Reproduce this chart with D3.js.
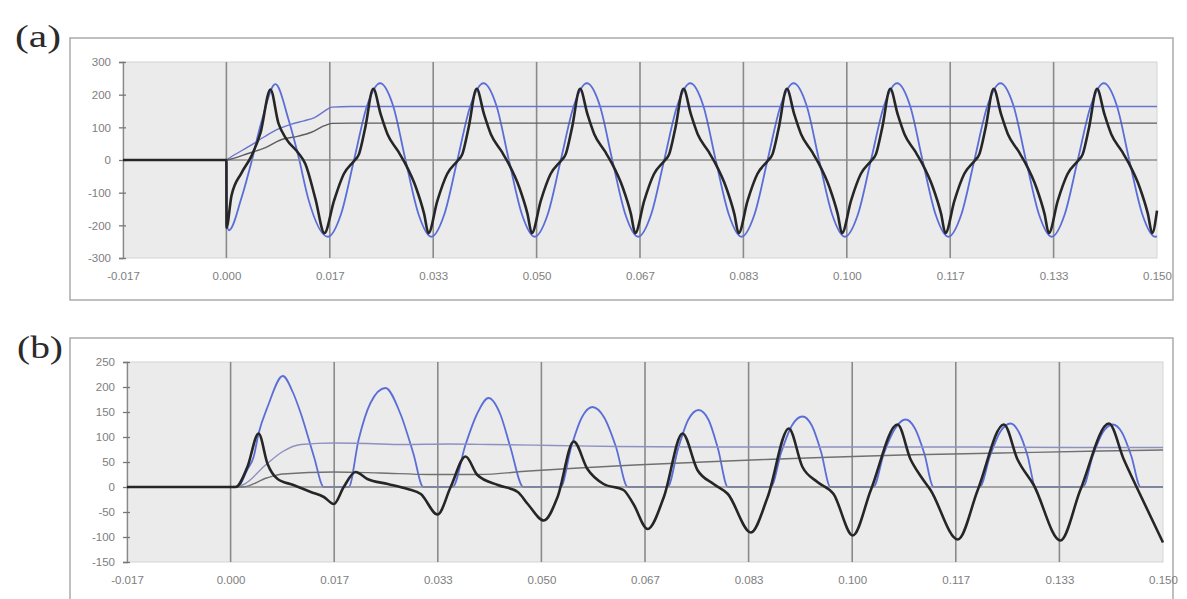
<!DOCTYPE html>
<html><head><meta charset="utf-8">
<script src="https://cdn.jsdelivr.net/npm/d3@7/dist/d3.min.js"></script>
<style>body{margin:0;background:#fff;}svg{display:block;}</style>
</head><body>
<svg id="chart" width="1187" height="599"></svg>
<script>
// ---------- data (time in ms, values as read) ----------
const xTickValues = [-16.667, 0, 16.667, 33.333, 50, 66.667, 83.333, 100, 116.667, 133.333, 150];
const xTickLabels = ["-0.017","0.000","0.017","0.033","0.050","0.067","0.083","0.100","0.117","0.133","0.150"];
const yTicksA = [-300,-200,-100,0,100,200,300];
const yTicksB = [-150,-100,-50,0,50,100,150,200,250];

// panel (a)
const blackA = [
[-16.67,0],[0,0],[0.02,-207],[0.81,-110],[2.42,-40],[4.03,12],[5.48,82],[7.1,216],[8.38,113],[9.67,64],[11.61,21],[12.73,-12],[14.35,-119],[15.8,-224],
[17.34,-125],[18.92,-43],[20.57,-3],[21.37,18],[22.37,98],[23.67,218],[24.87,140],[25.97,79],[27.67,27],[28.77,-9],[30.57,-85],[31.87,-165],[32.57,-224],
[34.0,-125],[35.58,-43],[37.23,-3],[38.03,18],[39.03,98],[40.33,218],[41.53,140],[42.63,79],[44.33,27],[45.43,-9],[47.23,-85],[48.53,-165],[49.23,-224],
[50.67,-125],[52.25,-43],[53.9,-3],[54.7,18],[55.7,98],[57.0,218],[58.2,140],[59.3,79],[61.0,27],[62.1,-9],[63.9,-85],[65.2,-165],[65.9,-224],
[67.34,-125],[68.92,-43],[70.57,-3],[71.37,18],[72.37,98],[73.67,218],[74.87,140],[75.97,79],[77.67,27],[78.77,-9],[80.57,-85],[81.87,-165],[82.57,-224],
[84.0,-125],[85.58,-43],[87.23,-3],[88.03,18],[89.03,98],[90.33,218],[91.53,140],[92.63,79],[94.33,27],[95.43,-9],[97.23,-85],[98.53,-165],[99.23,-224],
[100.67,-125],[102.25,-43],[103.9,-3],[104.7,18],[105.7,98],[107.0,218],[108.2,140],[109.3,79],[111.0,27],[112.1,-9],[113.9,-85],[115.2,-165],[115.9,-224],
[117.34,-125],[118.92,-43],[120.57,-3],[121.37,18],[122.37,98],[123.67,218],[124.87,140],[125.97,79],[127.67,27],[128.77,-9],[130.57,-85],[131.87,-165],[132.57,-224],
[134.0,-125],[135.58,-43],[137.23,-3],[138.03,18],[139.03,98],[140.33,218],[141.53,140],[142.63,79],[144.33,27],[145.43,-9],[147.23,-85],[148.53,-165],[149.23,-224],
[150,-155]
];
const blueA = [
[-16.67,0],[0,0],[0.05,-195],[0.4,-215],[2.4,-118],[4.0,-9],[5.6,113],[7.9,232],[10.0,125],[11.6,12],[13.2,-119],
[16.37,-235],[18.47,-166],[20.57,0],[22.67,166],[24.77,235],[26.87,166],[28.87,0],[30.97,-166],
[33.03,-235],[35.13,-166],[37.23,0],[39.33,166],[41.43,235],[43.53,166],[45.53,0],[47.63,-166],
[49.7,-235],[51.8,-166],[53.9,0],[56.0,166],[58.1,235],[60.2,166],[62.2,0],[64.3,-166],
[66.37,-235],[68.47,-166],[70.57,0],[72.67,166],[74.77,235],[76.87,166],[78.87,0],[80.97,-166],
[83.03,-235],[85.13,-166],[87.23,0],[89.33,166],[91.43,235],[93.53,166],[95.53,0],[97.63,-166],
[99.7,-235],[101.8,-166],[103.9,0],[106.0,166],[108.1,235],[110.2,166],[112.2,0],[114.3,-166],
[116.37,-235],[118.47,-166],[120.57,0],[122.67,166],[124.77,235],[126.87,166],[128.87,0],[130.97,-166],
[133.03,-235],[135.13,-166],[137.23,0],[139.33,166],[141.43,235],[143.53,166],[145.53,0],[147.63,-166],
[149.7,-235],[150,-234]
];
const blueLevelA = [[0,0],[0.8,10],[3.5,40],[6.2,72],[8.4,95],[10.5,110],[12.5,120],[14.2,130],[15.7,148],[17.0,162],[20,164],[150,164]];
const grayLevelA = [[0,0],[0.8,3],[3.5,20],[6.2,37],[8.8,62],[11.6,73],[13.7,85],[15.8,105],[17.0,112],[20,113],[150,113]];

// panel (b)
const blackB = [
[-16.67,0],[0,0],[0.8,0],[2.7,40],[4.5,107],[5.95,46],[7.56,16],[10.1,4],[12.9,-10],[15.0,-20],[16.6,-34],
[18.2,0],[20.1,30],[22.0,16],[25.3,6],[28.5,-4],[30.6,-14],[33.3,-55],
[35.4,0],[37.8,61],[39.7,24],[43.0,4],[46.2,-10],[47.8,-34],[50.4,-67],
[52.6,-20],[55.2,91],[57.4,36],[60.0,6],[63.2,-6],[64.8,-34],[67.1,-84],
[69.7,-20],[72.7,107],[75.1,34],[77.7,6],[80.0,-14],[83.7,-91],
[86.4,-20],[89.8,117],[92.0,40],[94.4,10],[97.0,-14],[100.1,-97],
[103.0,-6],[107.3,125],[109.4,55],[111.0,22],[112.6,-6],[117.0,-105],
[120.2,-6],[124.4,125],[126.6,55],[129.2,4],[133.5,-107],
[136.7,-6],[141.3,127],[143.7,55],[145.9,-4],[150,-111]
];
const blueB = [
[-16.67,0],[0,0],[1.1,0],[2.7,35],[3.7,60],[4.5,107],[6.0,162],[8.4,222],[10.0,190],[11.3,147],[13.4,61],[15.0,0],
[19.0,0],[20.6,95],[22.5,168],[24.9,198],[27.3,147],[29.4,67],[31.0,0],
[35.7,0],[37.8,85],[39.6,145],[41.5,178],[43.4,145],[45.0,80],[47.1,0],
[53.1,0],[54.8,80],[56.5,139],[58.2,160],[60.1,139],[62.0,80],[63.9,0],
[70.3,0],[72.0,77],[73.6,134],[75.3,154],[76.9,134],[78.4,77],[80.0,0],
[86.9,0],[88.6,70],[90.3,123],[92.0,141],[93.5,123],[95.0,70],[96.5,0],
[103.4,0],[105.1,67],[106.9,117],[108.6,135],[110.1,117],[111.6,67],[113.1,0],
[120.5,0],[122.2,63],[123.8,110],[125.5,127],[126.8,110],[128.2,63],[129.5,0],
[137.1,0],[138.7,62],[140.3,109],[141.9,125],[143.4,109],[144.9,62],[146.4,0],[150,0]
];
const blueLevelB = [[0,0],[1.9,4],[5.8,46],[8.4,71],[11.3,85],[16.6,88],[22,87],[27.7,85],[35,86],[42,85],[52,83],[62,81],[75,80],[90,80],[105,80],[120,80],[135,79],[150,79]];
const grayLevelB = [[0,0],[2,0],[5.8,18],[8.4,26],[16.6,30],[24,28],[32,25],[40,25],[48,32],[56,38],[65,44],[76,50],[86,55],[95,59],[108,64],[124,68],[140,72],[150,74]];

// ---------- drawing ----------
const svg = d3.select("#chart");

function panel(o) {
  const g = svg.append("g");
  g.append("rect").attr("x", o.frame[0]).attr("y", o.frame[1]).attr("width", o.frame[2]).attr("height", o.frame[3])
    .attr("fill", "#fff").attr("stroke", "#aaa").attr("stroke-width", 1.5);
  g.append("text").attr("x", o.labelPos[0]).attr("y", o.labelPos[1]).text(o.label)
    .attr("font-family", "'Liberation Serif','DejaVu Serif',serif").attr("font-size", 31).attr("fill", "#2a2a2a")
    .attr("textLength", 46).attr("lengthAdjust", "spacingAndGlyphs");

  const x = d3.scaleLinear().domain([-16.667, 150]).range([o.left, o.right]);
  const y = d3.scaleLinear().domain(o.yDomain).range([o.bottom, o.top]);

  g.append("rect").attr("x", o.left).attr("y", o.top).attr("width", o.right - o.left).attr("height", o.bottom - o.top)
    .attr("fill", "#ebebeb").attr("stroke", "#d4d4d4").attr("stroke-width", 1);

  // vertical grid
  g.append("g").selectAll("line").data(xTickValues.slice(1, -1)).join("line")
    .attr("x1", d => x(d)).attr("x2", d => x(d)).attr("y1", o.top).attr("y2", o.bottom)
    .attr("stroke", "#8a8a8a").attr("stroke-width", 1.6);

  // x labels
  const xAxis = d3.axisBottom(x).tickValues(xTickValues).tickFormat((d, i) => xTickLabels[i]).tickSize(0).tickPadding(14);
  const xa = g.append("g").attr("transform", `translate(0,${o.bottom})`).call(xAxis);
  xa.select(".domain").remove();
  xa.selectAll("text").attr("font-family", "'Liberation Sans',Arial,sans-serif").attr("font-size", 11.5).attr("fill", "#7e7e7e");

  // y axis
  const yAxis = d3.axisLeft(y).tickValues(o.yTicks).tickFormat(d => String(d)).tickSize(4).tickPadding(8);
  const ya = g.append("g").attr("transform", `translate(${o.left},0)`).call(yAxis);
  ya.select(".domain").attr("stroke", "#888").attr("stroke-width", 1.3);
  ya.selectAll(".tick line").attr("stroke", "#777").attr("x2", -4).attr("x1", 3).attr("stroke-width", 1.3);
  ya.selectAll("text").attr("font-family", "'Liberation Sans',Arial,sans-serif").attr("font-size", 11.5).attr("fill", "#7e7e7e");

  const line = d3.line().x(d => x(d[0])).y(d => y(d[1])).curve(d3.curveMonotoneX);
  const plot = g.append("g");
  o.series.forEach(s => {
    if (s.zero) {
      plot.append("line").attr("x1", o.left).attr("x2", o.right).attr("y1", y(0)).attr("y2", y(0))
        .attr("stroke", "#8c8c8c").attr("stroke-width", 1.3);
      return;
    }
    plot.append("path").datum(s.data).attr("d", line).attr("fill", "none")
      .attr("stroke", s.color).attr("stroke-width", s.width).attr("stroke-linejoin", "round");
  });
}

panel({
  frame: [70, 38, 1103, 262], label: "(a)", labelPos: [15, 47],
  left: 123, right: 1157, top: 62, bottom: 258, yDomain: [-300, 300], yTicks: yTicksA,
  series: [
    {data: blueA, color: "#5a6ed8", width: 1.8},
    {zero: true},
    {data: blueLevelA, color: "#6b73cf", width: 1.4},
    {data: grayLevelA, color: "#5d5d5d", width: 1.4},
    {data: blackA, color: "#262626", width: 2.6}
  ]
});

panel({
  frame: [70, 338, 1103, 275], label: "(b)", labelPos: [17, 358],
  left: 127, right: 1163, top: 362, bottom: 562, yDomain: [-150, 250], yTicks: yTicksB,
  series: [
    {data: blueB, color: "#5a6ed8", width: 1.8},
    {zero: true},
    {data: blueLevelB, color: "#8d91bf", width: 1.4},
    {data: grayLevelB, color: "#707070", width: 1.4},
    {data: blackB, color: "#262626", width: 2.6}
  ]
});
</script>
</body></html>
